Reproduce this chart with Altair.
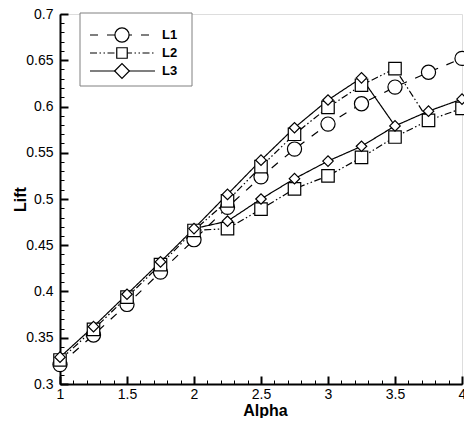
import altair as alt
import pandas as pd

# ---------------- data ----------------
series_names = ["L1", "L2", "L3"]

alpha_main = [1.0, 1.25, 1.5, 1.75, 2.0, 2.25, 2.5, 2.75, 3.0, 3.25, 3.5, 3.75, 4.0, 4.25]
l1_main = [0.321, 0.353, 0.386, 0.421, 0.456, 0.491, 0.524, 0.554, 0.581, 0.603, 0.621, 0.637, 0.652, 0.665]
l2_main = [0.326, 0.359, 0.394, 0.429, 0.466, 0.498, 0.535, 0.570, 0.599, 0.623, 0.641, 0.585, 0.598, 0.608]
l3_main = [0.329, 0.362, 0.397, 0.432, 0.468, 0.505, 0.542, 0.577, 0.607, 0.631, 0.579, 0.595, 0.608, 0.618]

alpha_l2_back = [3.75, 3.5, 3.25, 3.0, 2.75, 2.5, 2.25, 2.0]
l2_back = [0.585, 0.567, 0.545, 0.525, 0.511, 0.489, 0.468, 0.466]
alpha_l3_back = [3.5, 3.25, 3.0, 2.75, 2.5, 2.25, 2.0]
l3_back = [0.579, 0.557, 0.541, 0.522, 0.500, 0.476, 0.468]

x_major = [1, 1.5, 2, 2.5, 3, 3.5, 4]
x_minor = [round(1 + 0.1 * i, 2) for i in range(31)]
y_major = [0.3, 0.35, 0.4, 0.45, 0.5, 0.55, 0.6, 0.65, 0.7]
y_minor = [round(0.3 + 0.01 * i, 2) for i in range(41)]

# ---------------- tables ----------------
line_rows = []
point_rows = []


def add_branch(series, branch, xs, ys, skip_ends=False):
    for i, (a, v) in enumerate(zip(xs, ys)):
        line_rows.append({"series": series, "branch": f"{series}-{branch}", "seq": i, "alpha": a, "lift": v})
        if skip_ends and (i == 0 or i == len(xs) - 1):
            continue
        point_rows.append({"series": series, "alpha": a, "lift": v})


add_branch("L1", "main", alpha_main, l1_main)
add_branch("L2", "main", alpha_main, l2_main)
add_branch("L2", "back", alpha_l2_back, l2_back, skip_ends=True)
add_branch("L3", "main", alpha_main, l3_main)
add_branch("L3", "back", alpha_l3_back, l3_back, skip_ends=True)

lines_df = pd.DataFrame(line_rows)
points_df = pd.DataFrame(point_rows)

FONT = "Liberation Sans"
dash_range = [[8, 9], [7, 2.5, 1.5, 2.5, 1.5, 2.5], [1, 0]]
shape_range = ["circle", "square", "diamond"]
size_range = [200, 110, 215]

W, H = 402, 370

xs = alt.Scale(domain=[1, 4], nice=False, zero=False)
ys = alt.Scale(domain=[0.3, 0.7], nice=False, zero=False)

common_axis = dict(grid=False, labelFlush=False, labelOverlap=False, tickColor="black",
                   domainColor="black", labelColor="black", labelFont=FONT)

x_main_axis = alt.Axis(values=x_major, format="~g", ticks=False, tickSize=0, labelPadding=3,
                       domainWidth=2, labelFontSize=14, title="Alpha", titleFont=FONT,
                       titleFontSize=16, titleFontWeight="bold", titleColor="black",
                       titleX=205, titleY=31, titleBaseline="alphabetic", titleAlign="center",
                       orient="bottom", **common_axis)
y_main_axis = alt.Axis(values=y_major, format="~g", ticks=False, tickSize=0, labelPadding=7,
                       domainWidth=2, labelFontSize=14, title="Lift", titleFont=FONT,
                       titleFontSize=16, titleFontWeight="bold", titleColor="black",
                       titleX=-32, titleY=H / 2, titleAngle=270, titleBaseline="bottom",
                       titleAlign="center", orient="left", **common_axis)

x_major_axis = alt.Axis(values=x_major, ticks=True, tickSize=8, tickWidth=2, offset=-8,
                        labels=False, domain=False, title=None, orient="bottom", grid=False,
                        tickColor="black")
y_major_axis = alt.Axis(values=y_major, ticks=True, tickSize=8, tickWidth=2, offset=-8,
                        labels=False, domain=False, title=None, orient="left", grid=False,
                        tickColor="black")
x_minor_axis = alt.Axis(values=x_minor, ticks=True, tickSize=4, tickWidth=1, offset=-4,
                        labels=False, domain=False, title=None, orient="bottom", grid=False,
                        tickColor="black")
y_minor_axis = alt.Axis(values=y_minor, ticks=True, tickSize=4, tickWidth=1, offset=-4,
                        labels=False, domain=False, title=None, orient="left", grid=False,
                        tickColor="black")

lines = alt.Chart(lines_df).mark_line(color="black", strokeWidth=1.2).encode(
    x=alt.X("alpha:Q", scale=xs, axis=x_main_axis),
    y=alt.Y("lift:Q", scale=ys, axis=y_main_axis),
    strokeDash=alt.StrokeDash("series:N", scale=alt.Scale(domain=series_names, range=dash_range), legend=None),
    detail="branch:N",
    order="seq:Q",
)

points = alt.Chart(points_df).mark_point(filled=True, fill="white", stroke="black", strokeWidth=1.2, opacity=1).encode(
    x=alt.X("alpha:Q", scale=xs, axis=x_major_axis),
    y=alt.Y("lift:Q", scale=ys, axis=y_major_axis),
    shape=alt.Shape("series:N", scale=alt.Scale(domain=series_names, range=shape_range), legend=None),
    size=alt.Size("series:N", scale=alt.Scale(domain=series_names, range=size_range), legend=None),
)

minor = alt.Chart(points_df).mark_point(opacity=0).encode(
    x=alt.X("alpha:Q", scale=xs, axis=x_minor_axis),
    y=alt.Y("lift:Q", scale=ys, axis=y_minor_axis),
)

# ---------------- legend (drawn manually) ----------------
leg_box = alt.Chart(pd.DataFrame({"k": [0]})).mark_rect(
    fill="white", stroke="#808080", strokeWidth=1
).encode(x=alt.value(20), x2=alt.value(132), y=alt.value(-1), y2=alt.value(72))

legend_layers = [leg_box]
leg_y = [21, 39, 57]
for i, name in enumerate(series_names):
    d = pd.DataFrame({"series": [name]})
    legend_layers.append(
        alt.Chart(d).mark_rule(color="black", strokeWidth=1.2, strokeDash=dash_range[i]).encode(
            x=alt.value(30), x2=alt.value(95), y=alt.value(leg_y[i]))
    )
    legend_layers.append(
        alt.Chart(d).mark_point(filled=True, fill="white", stroke="black", strokeWidth=1.2, opacity=1,
                                shape=shape_range[i], size=size_range[i]).encode(
            x=alt.value(62), y=alt.value(leg_y[i]))
    )
    legend_layers.append(
        alt.Chart(d).mark_text(font=FONT, fontSize=13, fontWeight="bold", color="black",
                               align="left", baseline="middle").encode(
            x=alt.value(102), y=alt.value(leg_y[i]), text="series:N")
    )

chart = alt.layer(lines, points, minor, *legend_layers).resolve_axis(
    x="independent", y="independent"
).properties(
    width=W, height=H,
    autosize=alt.AutoSizeParams(type="none"),
    padding={"left": 52, "top": 6, "right": 2, "bottom": 34},
).configure_view(stroke=None).configure(background="white")

chart.save("out.html", embed_options={"renderer": "svg", "actions": False})
